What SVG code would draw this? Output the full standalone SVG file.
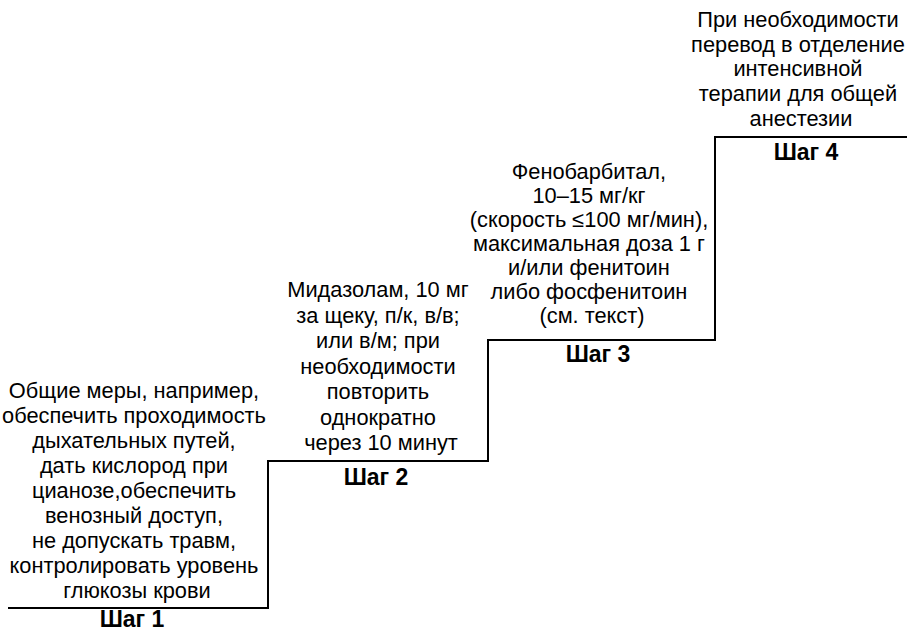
<svg xmlns="http://www.w3.org/2000/svg" width="908" height="633" viewBox="0 0 908 633">
  <style>
    .t { font-family: "Liberation Sans", Arial, sans-serif; font-size: 21.8px; fill: #000; text-anchor: middle; }
    .h { font-family: "Liberation Sans", Arial, sans-serif; font-size: 23px; font-weight: bold; fill: #000; text-anchor: middle; }
    .stair { fill: none; stroke: #000; stroke-width: 2; }
  </style>
  <rect width="908" height="633" fill="#fff"/>

  <!-- staircase outline -->
  <g id="connectors">
    <path class="stair" d="M8 608 H268 V461 H488 V340 H715 V137 H907"/>
  </g>

  <g id="step1">
    <text class="t">
      <tspan x="137" y="398">Общие меры, например,</tspan>
      <tspan x="137" y="423">обеспечить проходимость</tspan>
      <tspan x="137" y="448">дыхательных путей,</tspan>
      <tspan x="137" y="473">дать кислород при</tspan>
      <tspan x="137" y="498">цианозе,обеспечить</tspan>
      <tspan x="137" y="523">венозный доступ,</tspan>
      <tspan x="137" y="548">не допускать травм,</tspan>
      <tspan x="137" y="573">контролировать уровень</tspan>
      <tspan x="137" y="598">глюкозы крови</tspan>
    </text>
    <text class="h" x="132" y="627">Шаг 1</text>
  </g>

  <g id="step2">
    <text class="t">
      <tspan x="381" y="297">Мидазолам, 10 мг</tspan>
      <tspan x="381" y="322.5">за щеку, п/к, в/в;</tspan>
      <tspan x="381" y="348">или в/м; при</tspan>
      <tspan x="381" y="373.5">необходимости</tspan>
      <tspan x="381" y="399">повторить</tspan>
      <tspan x="381" y="424.5">однократно</tspan>
      <tspan x="381" y="450">через 10 минут</tspan>
    </text>
    <text class="h" x="376" y="485">Шаг 2</text>
  </g>

  <g id="step3">
    <text class="t">
      <tspan x="592" y="179">Фенобарбитал,</tspan>
      <tspan x="592" y="203">10–15 мг/кг</tspan>
      <tspan x="592" y="227">(скорость ≤100 мг/мин),</tspan>
      <tspan x="592" y="251">максимальная доза 1 г</tspan>
      <tspan x="592" y="275">и/или фенитоин</tspan>
      <tspan x="592" y="299">либо фосфенитоин</tspan>
      <tspan x="592" y="323">(см. текст)</tspan>
    </text>
    <text class="h" x="598" y="362">Шаг 3</text>
  </g>

  <g id="step4">
    <text class="t">
      <tspan x="801" y="27">При необходимости</tspan>
      <tspan x="801" y="52">перевод в отделение</tspan>
      <tspan x="801" y="76">интенсивной</tspan>
      <tspan x="801" y="101">терапии для общей</tspan>
      <tspan x="801" y="126">анестезии</tspan>
    </text>
    <text class="h" x="806" y="160">Шаг 4</text>
  </g>
</svg>
